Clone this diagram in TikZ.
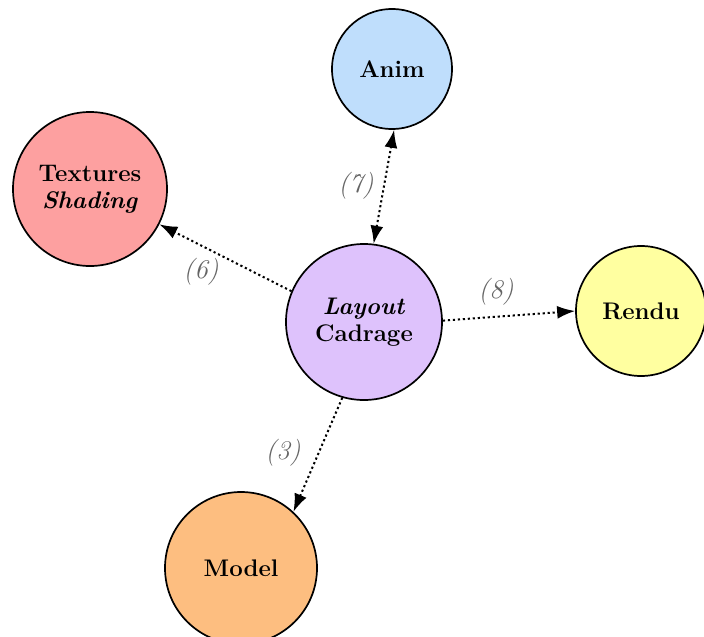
\documentclass[tikz,border=0pt]{standalone}
\usepackage{fontspec}
\usetikzlibrary{arrows.meta}
\definecolor{animc}{RGB}{191,222,252}
\definecolor{texc}{RGB}{253,160,160}
\definecolor{layc}{RGB}{222,194,252}
\definecolor{renc}{RGB}{255,255,160}
\definecolor{modc}{RGB}{253,190,128}
\definecolor{labc}{RGB}{100,100,100}
\tikzset{
  state/.style={circle, draw=black, line width=1.7pt, inner sep=0pt, align=center,
    font=\fontsize{24}{27}\selectfont\bfseries},
  tip/.tip={Latex[length=18pt,width=13pt]},
  link/.style={line width=2pt, dash pattern=on 2.2pt off 2.8pt, -tip},
  biglink/.style={line width=2pt, dash pattern=on 2.2pt off 2.8pt, tip-tip},
  lab/.style={text=labc, font=\fontsize{27}{29}\selectfont\itshape}
}
\begin{document}
\begin{tikzpicture}[x=1pt,y=-1pt]
\useasboundingbox (0,0) rectangle (704,637);
\node[state, fill=animc, minimum size=120pt] (anim) at (392,69) {Anim};
\node[state, fill=texc, minimum size=154pt] (tex) at (90,189) {Textures\\\textit{Shading}};
\node[state, fill=layc, minimum size=156pt] (lay) at (364,322) {\textit{Layout}\\Cadrage};
\node[state, fill=renc, minimum size=130pt] (ren) at (641,311) {Rendu};
\node[state, fill=modc, minimum size=152pt] (mod) at (241,568) {Model};
\draw[link] (lay.157) -- (tex.-27);
\draw[biglink] (lay.83) -- (anim.-88);
\draw[link] (lay.1) -- (ren.180);
\draw[link] (lay.-106) -- (mod.47);
\node[lab] (l6) at (201,272) {(6)};
\node[lab] (l7) at (356,186) {(7)};
\node[lab] (l8) at (496,292) {(8)};
\node[lab] (l3) at (283,453) {(3)};
\end{tikzpicture}
\end{document}
